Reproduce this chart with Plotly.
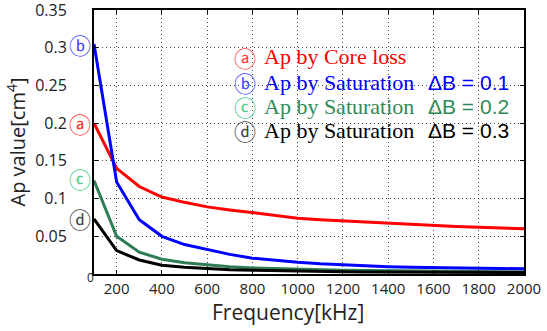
import plotly.graph_objects as go

freq = [100, 200, 300, 400, 500, 600, 700, 800, 900, 1000, 1100, 1200, 1300, 1400, 1500, 1600, 1700, 1800, 1900, 2000]
ap_core = [0.200, 0.140, 0.116, 0.102, 0.095, 0.089, 0.085, 0.081, 0.077, 0.074, 0.072, 0.0705, 0.069, 0.067, 0.066, 0.064, 0.063, 0.062, 0.061, 0.060]
ap_sat01 = [0.305, 0.122, 0.072, 0.050, 0.039, 0.032, 0.026, 0.021, 0.018, 0.0155, 0.0135, 0.012, 0.011, 0.0097, 0.009, 0.0088, 0.008, 0.0075, 0.0072, 0.007]
ap_sat02 = [0.124, 0.050, 0.029, 0.0195, 0.015, 0.012, 0.0095, 0.008, 0.007, 0.006, 0.0055, 0.005, 0.0045, 0.0042, 0.004, 0.0037, 0.0035, 0.0033, 0.0031, 0.003]
ap_sat03 = [0.073, 0.031, 0.0186, 0.0115, 0.009, 0.007, 0.0058, 0.005, 0.0043, 0.0038, 0.0034, 0.0031, 0.0028, 0.0026, 0.0024, 0.0023, 0.0022, 0.0021, 0.002, 0.002]

x_ticks = [200, 400, 600, 800, 1000, 1200, 1400, 1600, 1800, 2000]
y_ticks = [0.05, 0.1, 0.15, 0.2, 0.25, 0.3, 0.35]
y_tick_text = ["0.05", "0.1", "0.15", "0.2", "0.25", "0.3", "0.35"]

series = [
    (ap_core, "#ff0000"),
    (ap_sat01, "#0000ff"),
    (ap_sat02, "#2e7d55"),
    (ap_sat03, "#000000"),
]

fig = go.Figure()
for vals, col in series:
    fig.add_trace(go.Scatter(x=freq, y=vals, mode="lines",
                             line=dict(color=col, width=3), showlegend=False))

sans = "Open Sans"
serif = "Liberation Serif"
circ = "Noto Sans CJK JP"

fig.update_layout(
    width=547, height=331,
    margin=dict(l=94, r=23, t=10, b=57, autoexpand=False),
    plot_bgcolor="white", paper_bgcolor="white",
    xaxis=dict(range=[100, 2000], tickvals=x_ticks, automargin=False,
               ticklabeloverflow="allow",
               showgrid=True, gridcolor="#444444", griddash="1px,3px", gridwidth=1,
               showline=True, linecolor="black", linewidth=2, mirror="ticks",
               ticks="inside", ticklen=4, tickcolor="black",
               tickfont=dict(family=sans, size=15, color="#222"),
               zeroline=False),
    yaxis=dict(range=[0, 0.35], tickvals=y_ticks, ticktext=y_tick_text, automargin=False,
               ticklabeloverflow="allow",
               showgrid=True, gridcolor="#444444", griddash="1px,3px", gridwidth=1,
               showline=True, linecolor="black", linewidth=2, mirror="ticks",
               ticks="inside", ticklen=4, tickcolor="black",
               ticklabelstandoff=22,
               tickfont=dict(family=sans, size=16, color="#222"),
               title=dict(text="Ap value[cm<sup>4</sup>]", font=dict(family=sans, size=20, color="#222"), standoff=4),
               zeroline=False),
)

# x-axis title (slightly left of centre, as in the reference)
fig.add_annotation(x=(288 - 94) / 430, y=-(312 - 274) / 264, xref="paper", yref="paper",
                   text="Frequency[kHz]", showarrow=False, xanchor="center", yanchor="middle",
                   font=dict(family=sans, size=21, color="#222"))

# zero label at the corner
fig.add_annotation(x=0, y=0, xref="paper", yref="paper", text="0", showarrow=False,
                   xanchor="right", yanchor="middle", xshift=2, yshift=-3,
                   font=dict(family=sans, size=12, color="#222"))

# left-side circled labels
left_labels = [("ⓑ", "#4444ff"), ("ⓐ", "#ff3333"), ("ⓒ", "#44cc88"), ("ⓓ", "#444444")]
ys_left = [44, 123, 178, 218]
for (txt, col), ypx in zip(left_labels, ys_left):
    fig.add_annotation(x=(80 - 94) / 430, y=1 - (ypx - 10) / 264, xref="paper", yref="paper",
                       text=txt, showarrow=False, xanchor="center", yanchor="middle",
                       font=dict(family=circ, size=22, color=col))

# legend text block
legend_rows = [
    ("ⓐ", "#ff4444", "Ap by Core loss", "#ff0000", ""),
    ("ⓑ", "#4444ff", "Ap by Saturation", "#0000ff", "ΔB = 0.1"),
    ("ⓒ", "#44cc88", "Ap by Saturation", "#2e8b57", "ΔB = 0.2"),
    ("ⓓ", "#444444", "Ap by Saturation", "#000000", "ΔB = 0.3"),
]
ys = [57, 82, 106, 130]
for (c, ccol, t, tcol, db), ypx in zip(legend_rows, ys):
    yp = 1 - (ypx - 10) / 264
    fig.add_annotation(x=(258 - 94) / 430, y=yp, xref="paper", yref="paper", text=c,
                       showarrow=False, xanchor="right", yanchor="middle",
                       font=dict(family=circ, size=22, color=ccol))
    fig.add_annotation(x=(262 - 94) / 430, y=yp, xref="paper", yref="paper", text=t,
                       showarrow=False, xanchor="left", yanchor="middle",
                       font=dict(family=serif, size=22, color=tcol))
    if db:
        fig.add_annotation(x=(426 - 94) / 430, y=yp, xref="paper", yref="paper", text=db,
                           showarrow=False, xanchor="left", yanchor="middle",
                           font=dict(family="Liberation Sans", size=21, color=tcol))

fig.write_html("out.html")
